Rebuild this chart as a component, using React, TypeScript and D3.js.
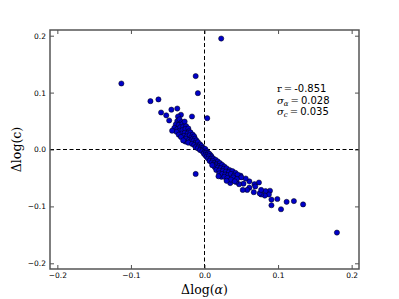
import React, { useEffect, useRef } from 'react';
import * as d3 from 'd3';

// Δlog(α) and Δlog(c) for each galaxy
const deltaAlpha = [
  -0.113, -0.0735, -0.0626, -0.059, -0.052, -0.045, -0.048, -0.037, -0.012, -0.009,
  -0.017, -0.026, 0.0227, 0.0037, -0.012, -0.032, -0.036, 0.18, 0.134, 0.1215,
  0.1116, 0.104, 0.099, 0.091, 0.091, 0.089, 0.0875, 0.083, 0.082, 0.077,
  0.075, 0.077, 0.074, 0.068, 0.069, 0.067, 0.061, 0.058, 0.052, 0.061,
  0.056, 0.053, 0.049, 0.047, 0.043, 0.035, 0.023,
  -0.037, -0.034, -0.031, -0.039, -0.035, -0.03, -0.027,
  -0.041, -0.037, -0.033, -0.029, -0.025, -0.034, -0.03, -0.026, -0.022, -0.038, -0.021, -0.044,
  -0.031, -0.027, -0.023, -0.019, -0.035, -0.028, -0.024, -0.02, -0.016, -0.032, -0.018, -0.014,
  -0.025, -0.021, -0.017, -0.013, -0.029, -0.019, -0.015, -0.011, -0.022, -0.013, -0.009, -0.017,
  -0.014, -0.01, -0.006, -0.012, -0.008, -0.004, -0.009, -0.005, -0.002, -0.006, -0.002, 0.001,
  -0.003, 0.0, 0.003, -0.001, 0.002, 0.005, 0.001, 0.004, 0.007, 0.009,
  0.003, 0.006, 0.01, 0.005, 0.008, 0.012, 0.015, 0.007, 0.011, 0.018,
  0.01, 0.013, 0.017, 0.021, 0.012, 0.016, 0.02, 0.024, 0.027, 0.014,
  0.018, 0.022, 0.026, 0.03, 0.034, 0.016, 0.02, 0.025, 0.029, 0.033, 0.038, 0.042,
  0.02, 0.024, 0.028, 0.032, 0.036, 0.04, 0.045, 0.027, 0.031, 0.039, 0.05, 0.019,
  0.036, 0.044, 0.041, 0.03, 0.0105
];
const deltaC = [
  0.116, 0.085, 0.088, 0.065, 0.06, 0.07, 0.051, 0.072, 0.129, 0.099,
  0.058, 0.014, 0.195, 0.055, -0.043, 0.061, 0.058, -0.146, -0.0965, -0.0907,
  -0.092, -0.105, -0.087, -0.098, -0.088, -0.0725, -0.079, -0.073, -0.081, -0.079,
  -0.077, -0.071, -0.058, -0.061, -0.065, -0.075, -0.067, -0.071, -0.071, -0.056,
  -0.051, -0.06, -0.046, -0.061, -0.057, -0.059, -0.048,
  0.05, 0.053, 0.048, 0.044, 0.043, 0.045, 0.049,
  0.038, 0.036, 0.039, 0.04, 0.041, 0.033, 0.034, 0.036, 0.037, 0.031, 0.032, 0.033,
  0.028, 0.029, 0.028, 0.03, 0.026, 0.024, 0.023, 0.025, 0.026, 0.022, 0.021, 0.023,
  0.019, 0.017, 0.018, 0.019, 0.016, 0.014, 0.015, 0.016, 0.012, 0.011, 0.013, 0.01,
  0.008, 0.007, 0.009, 0.004, 0.005, 0.006, 0.002, 0.002, 0.003, -0.001, 0.0, 0.001,
  -0.003, -0.004, -0.003, -0.007, -0.006, -0.006, -0.01, -0.009, -0.008, -0.011,
  -0.013, -0.012, -0.014, -0.016, -0.017, -0.016, -0.018, -0.02, -0.02, -0.021,
  -0.023, -0.024, -0.025, -0.024, -0.027, -0.028, -0.029, -0.027, -0.03, -0.031,
  -0.032, -0.033, -0.034, -0.033, -0.036, -0.036, -0.037, -0.038, -0.039, -0.04, -0.038, -0.041,
  -0.042, -0.043, -0.044, -0.045, -0.043, -0.046, -0.044, -0.048, -0.05, -0.049, -0.049, -0.047,
  -0.053, -0.052, -0.056, -0.055, -0.0275
];

const ticks = [-0.2, -0.1, 0.0, 0.1, 0.2];
const stats = [
  { sym: 'r', sub: '', value: '-0.851' },
  { sym: 'σ', sub: 'α', value: '0.028' },
  { sym: 'σ', sub: 'c', value: '0.035' }
];

const W = 399;
const H = 299;
const margin = { top: 30, right: 40, bottom: 30, left: 50 };
const innerW = W - margin.left - margin.right;
const innerH = H - margin.top - margin.bottom;

const fmt = (v: number) => (v < 0 ? '\u2212' : '') + Math.abs(v).toFixed(1);

const App = () => {
  const svgRef = useRef<SVGSVGElement>(null);

  useEffect(() => {
    const svg = d3.select(svgRef.current);
    svg.selectAll('*').remove();

    const x = d3.scaleLinear().domain([-0.21, 0.21]).range([0, innerW]);
    const y = d3.scaleLinear().domain([-0.21, 0.21]).range([innerH, 0]);

    const g = svg.append('g').attr('transform', `translate(${margin.left},${margin.top})`);

    // líneas de referencia en cero
    g.append('line')
      .attr('x1', x(0)).attr('x2', x(0))
      .attr('y1', 0).attr('y2', innerH)
      .attr('stroke', '#000').attr('stroke-width', 1)
      .attr('stroke-dasharray', '4,2.5');
    g.append('line')
      .attr('x1', 0).attr('x2', innerW)
      .attr('y1', y(0)).attr('y2', y(0))
      .attr('stroke', '#000').attr('stroke-width', 1)
      .attr('stroke-dasharray', '4,2.5');

    // puntos
    g.append('g')
      .selectAll('circle')
      .data(deltaAlpha.map((a, i) => [a, deltaC[i]]))
      .join('circle')
      .attr('cx', d => x(d[0]))
      .attr('cy', d => y(d[1]))
      .attr('r', 2.6)
      .attr('fill', '#0000c8')
      .attr('stroke', '#000')
      .attr('stroke-width', 0.5);

    // ejes con ticks hacia dentro, en los cuatro lados
    const styleAxis = (sel: any) => {
      sel.select('.domain').remove();
      sel.selectAll('line').attr('stroke', '#222').attr('stroke-width', 0.8);
      sel.selectAll('text')
        .style('font-family', '"DejaVu Sans", sans-serif')
        .style('font-size', '7.5px')
        .attr('fill', '#000');
    };

    g.append('g')
      .attr('transform', `translate(0,${innerH})`)
      .call(d3.axisBottom(x).tickValues(ticks).tickFormat(fmt as any).tickSizeInner(-4).tickSizeOuter(0).tickPadding(4))
      .call(styleAxis);
    g.append('g')
      .call(d3.axisTop(x).tickValues(ticks).tickFormat(() => '').tickSizeInner(-4).tickSizeOuter(0))
      .call(styleAxis);
    g.append('g')
      .call(d3.axisLeft(y).tickValues(ticks).tickFormat(fmt as any).tickSizeInner(-4).tickSizeOuter(0).tickPadding(4))
      .call(styleAxis);
    g.append('g')
      .attr('transform', `translate(${innerW},0)`)
      .call(d3.axisRight(y).tickValues(ticks).tickFormat(() => '').tickSizeInner(-4).tickSizeOuter(0))
      .call(styleAxis);

    // marco
    g.append('rect')
      .attr('width', innerW).attr('height', innerH)
      .attr('fill', 'none').attr('stroke', '#555').attr('stroke-width', 1.5);

    // etiquetas de ejes
    const xl = svg.append('text')
      .attr('x', margin.left + x(0))
      .attr('y', 294)
      .attr('text-anchor', 'middle')
      .style('font-family', '"DejaVu Serif", serif')
      .style('font-size', '12.5px');
    xl.append('tspan').text('Δlog(');
    xl.append('tspan').style('font-style', 'italic').text('α');
    xl.append('tspan').text(')');

    svg.append('text')
      .attr('transform', `translate(21,${margin.top + y(0)}) rotate(-90)`)
      .attr('text-anchor', 'middle')
      .style('font-family', '"DejaVu Serif", serif')
      .style('font-size', '12.5px')
      .text('Δlog(c)');

    // anotación con estadísticos
    const ann = svg.append('g').attr('transform', 'translate(277,92)');
    stats.forEach((s, i) => {
      const t = ann.append('text')
        .attr('y', i * 11.5)
        .style('font-size', '10px');
      t.append('tspan')
        .style('font-family', '"DejaVu Serif", serif')
        .style('font-style', s.sub ? 'italic' : 'normal')
        .text(s.sym);
      if (s.sub) {
        t.append('tspan')
          .attr('dy', 2)
          .style('font-family', '"DejaVu Serif", serif')
          .style('font-style', 'italic')
          .style('font-size', '7px')
          .text(s.sub);
        t.append('tspan').attr('dy', -2).style('font-family', '"DejaVu Serif", serif').text('\u2009=\u2009');
      } else {
        t.append('tspan').style('font-family', '"DejaVu Serif", serif').text('\u2009=\u2009');
      }
      t.append('tspan')
        .style('font-family', '"DejaVu Sans", sans-serif')
        .text(s.value);
    });
  }, []);

  return (
    <div style={{ position: 'absolute', left: 0, top: 0 }}>
      <svg ref={svgRef} width={W} height={H} style={{ display: 'block', background: '#fff' }}></svg>
    </div>
  );
};

export default App;
